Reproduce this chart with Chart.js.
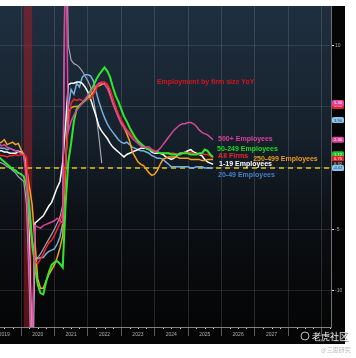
<!DOCTYPE html>
<html><head><meta charset="utf-8">
<script src="https://cdn.jsdelivr.net/npm/chart.js@4.4.1/dist/chart.umd.min.js"></script>
<style>html,body{margin:0;padding:0;background:#fff;}canvas{display:block;}</style>
</head><body>
<canvas id="c" width="356" height="358"></canvas>
<script>
// ---- data (monthly, starting May 2019) ----
const firstMonth = [2019, 5];
const allFirms = [1.1,1.0,1.0,0.9,1.0,1.0,1.1,1.0,1.1,1.1,
  0.9,-4.0,-6.5,-7.6,-7.8,-7.4,-7.0,-6.5,-6.1,-5.9,
  -5.5,-5.0,-4.5,-3.5,0.5,3.5,5.3,5.6,5.5,5.6,
  5.5,5.5,5.6,5.7,6.0,6.4,6.9,7.0,7.0,6.8,
  6.4,5.7,5.0,4.4,3.9,3.5,3.1,2.9,2.6,2.4,
  2.2,1.9,1.7,1.6,1.5,1.5,1.4,1.3,1.2,1.2,
  1.2,1.2,1.2,1.2,1.1,1.1,1.2,1.3,1.2,1.3,
  1.2,1.1,1.1,1.2,1.1,1.1,1.0,0.8];
const emp50to249 = [0.9,0.7,0.5,0.3,0.1,-0.1,-0.2,-0.4,-0.5,-0.7,
  -1.5,-3.5,-6.0,-8.0,-9.5,-10.2,-10.3,-9.3,-8.5,-7.9,
  -7.7,-7.6,-7.8,-8.1,-3.0,0.5,2.0,3.8,4.8,5.1,
  5.3,5.5,5.8,6.3,6.7,7.2,7.6,7.9,8.2,7.9,
  7.4,6.6,5.9,5.4,4.8,4.2,3.8,3.3,2.9,2.5,
  2.2,2.0,1.8,1.6,1.5,1.4,1.3,1.3,1.2,1.2,
  1.2,1.2,1.1,1.1,1.1,1.1,1.2,1.2,1.2,1.1,
  1.1,1.1,1.2,1.2,1.5,1.4,1.1,0.9];
const emp250to499 = [2.0,2.1,2.3,1.9,2.0,2.1,1.9,2.0,1.5,1.1,
  0.0,-1.5,-3.0,-6.0,-9.0,-9.8,-9.8,-9.2,-8.7,-8.3,
  -7.9,-7.3,-6.5,-5.5,0.0,4.5,4.9,5.0,5.0,5.1,
  5.3,5.5,5.7,5.9,6.2,6.6,6.7,6.8,6.9,6.8,
  6.0,5.3,4.7,4.2,3.8,3.3,2.8,2.2,1.3,0.9,
  0.5,0.3,0.2,-0.1,-0.4,-0.6,-0.5,-0.2,0.3,0.7,
  0.8,0.9,0.9,0.9,0.9,0.8,0.8,0.8,0.8,0.7,
  0.7,0.7,0.7,0.6,0.6,0.7,0.7,0.7];
const emp1to19 = [1.4,1.4,1.3,1.3,1.2,1.2,1.2,1.3,1.3,1.1,
  0.0,-6.0,-16,-4.5,-4.3,-4.1,-3.9,-3.5,-3.1,-2.8,
  -2.2,-1.6,-1.1,0.5,3.5,6.8,6.9,6.9,7.0,7.0,
  6.9,6.6,6.2,5.6,4.9,4.2,3.4,3.0,2.7,2.4,
  2.0,1.7,1.5,1.3,1.1,0.9,1.1,1.2,1.3,1.4,
  1.5,1.6,1.6,1.6,1.5,1.3,1.2,1.2,1.2,1.1,
  0.9,0.8,0.7,0.8,1.0,1.2,1.2,1.3,1.4,1.5,
  1.3,1.2,1.1,1.0,0.7,0.5,0.4,0.3];
const emp20to49 = [1.7,1.6,1.6,1.5,1.6,1.5,1.4,1.4,1.3,1.1,
  -0.5,-3.0,-6.0,-7.4,-7.4,-7.3,-7.3,-7.0,-6.8,-6.7,
  -6.6,-6.2,-5.6,-4.5,0.0,5.0,6.4,6.0,6.9,6.6,
  7.4,7.6,7.6,7.5,7.1,6.2,5.4,4.7,4.1,3.6,
  3.2,2.9,2.6,2.3,2.1,2.0,2.1,1.9,1.7,1.6,
  1.5,1.4,1.4,1.3,1.2,1.0,0.9,0.8,0.8,0.7,
  0.5,0.3,0.1,0.1,0.1,0.1,0.1,0.1,0.1,0.0,
  0.0,0.1,0.1,0.1,0.0,0.0,0.0,0.0];
const emp500plus = [2.0,1.8,1.9,1.7,1.6,1.5,1.4,1.3,1.2,1.0,
  -1.0,-8.0,-16,-4.7,-4.8,-4.9,-4.7,-4.6,-4.5,-4.4,
  -4.3,-4.1,-4.3,-4.5,20,3.0,3.8,4.3,4.7,5.0,
  5.3,5.6,5.9,6.2,6.5,6.7,6.9,6.9,6.8,6.5,
  5.9,5.3,4.7,4.1,3.6,3.3,3.0,2.7,2.4,2.2,
  2.0,1.8,1.7,1.7,1.7,1.5,1.3,1.4,1.6,1.9,
  2.2,2.5,2.8,3.1,3.3,3.5,3.6,3.6,3.7,3.7,
  3.6,3.4,3.1,2.9,2.8,2.7,2.5,2.3];
const otherSeries = [0.5,0.4,0.3,0.1,0.0,-0.2,-0.4,-0.7,-0.9,-1.1,
  -3.0,-10.0,-20,-7.5,-7.3,-7.0,-6.6,-6.2,-5.8,-5.4,
  -5.0,-4.5,-4.0,-3.0,22,10.0,8.8,8.5,8.4,8.2,
  7.9,7.5,7.1,6.6,5.6,4.3,2.5,0.4];

const seriesNames = ['500+ Employees','50-249 Employees','All Firms','250-499 Employees','1-19 Employees','20-49 Employees',''];
const seriesValues = [emp500plus, emp50to249, allFirms, emp250to499, emp1to19, emp20to49, otherSeries];
const seriesColors = ['#d8479b','#2ee82e','#f2222c','#f5a21a','#ffffff','#74aee2','#a6a2b8'];
const seriesWidths = [1.5,2,1.5,1.5,1.5,1.5,1.2];

const yearTicks = [2019,2020,2021,2022,2023,2024,2025,2026,2027,2028,2029];
const yTicks = [-10,-5,0,5,10];
const xRange = [2019.371, 2029.281];
const yRange = [-12.96, 13.2];
const zeroLine = 0;
const recession = [2020.083, 2020.333];

// line-end labels
const annoText = ['500+ Employees','50-249 Employees','All Firms','250-499 Employees','1-19 Employees','20-49 Employees'];
const annoX = [2025.90, 2025.87, 2025.90, 2026.95, 2025.93, 2025.90];
const annoY = [2.36, 1.55, 0.98, 0.73, 0.33, -0.57];
const annoColors = ['#de3f9c','#22d822','#f0242c','#e99a1e','#ffffff','#4a7fc4'];
const titleText = 'Employment by firm size YoY';
const titlePos = [2024.07, 7.0];

// right axis value badges
const badgeValues = [5.05, 5.30, 3.90, 2.30, 1.12, 0.75, 0.32, 0.00];
const badgeTexts = ['5.06','5.30','3.90','2.30','1.12','0.75','0.32','-0.02'];
const badgeColors = ['#e3212b','#e0439b','#8cc4ec','#e0439b','#21c521','#e3212b','#222222','#8cc4ec'];
const badgeTextColors = ['#fff','#fff','#1a3a5a','#fff','#fff','#fff','#ddd','#1a3a5a'];

function monthTime(i){ const m = firstMonth[1]-1+i; return firstMonth[0] + m/12; }

const datasets = seriesValues.map((arr,k)=>({
  label: seriesNames[k],
  data: arr.map((v,i)=>({x: monthTime(i), y: v})),
  borderColor: seriesColors[k],
  borderWidth: seriesWidths[k],
  pointRadius: 0,
  tension: 0,
  fill: false
}));
datasets.push({
  label: 'zero',
  data: [{x: xRange[0], y: zeroLine}, {x: xRange[1], y: zeroLine}],
  borderColor: '#e2c21a', borderWidth: 1.5, borderDash: [5,4], pointRadius: 0
});

const bgPlugin = {
  id: 'bg',
  beforeDraw(chart){
    const c = chart.ctx, a = chart.chartArea;
    c.save();
    c.fillStyle = '#fff'; c.fillRect(0,0,chart.width,chart.height);
    c.fillStyle = '#050505'; c.fillRect(0, a.top, a.right+14, a.bottom+17-a.top);
    const g = c.createLinearGradient(0, a.top, 0, a.bottom);
    g.addColorStop(0, '#1f2f3f'); g.addColorStop(0.4, '#16212c');
    g.addColorStop(0.7, '#0b0e12'); g.addColorStop(1, '#050505');
    c.fillStyle = g; c.fillRect(a.left, a.top, a.right-a.left, a.bottom-a.top);
    c.restore();
  },
  beforeDatasetsDraw(chart){
    const c = chart.ctx, a = chart.chartArea, xs = chart.scales.x;
    const x0 = xs.getPixelForValue(recession[0]), x1 = xs.getPixelForValue(recession[1]);
    c.save();
    c.fillStyle = 'rgba(160,30,40,0.55)';
    c.fillRect(x0, a.top, x1-x0, a.bottom-a.top);
    c.restore();
  },
  afterDatasetsDraw(chart){
    const c = chart.ctx, a = chart.chartArea, xs = chart.scales.x, ys = chart.scales.y;
    c.save();
    c.fillStyle = '#cfcfcf';
    for (let y = 2019; y <= 2029; y++) for (let q = 1; q < 4; q++) {
      const px = xs.getPixelForValue(y + q/4);
      if (px > a.left && px < a.right) c.fillRect(Math.round(px), a.bottom+1, 1, 1);
    }
    c.textBaseline = 'middle'; c.textAlign = 'left';
    c.font = 'bold 7px "Liberation Sans", Arial, sans-serif';
    c.fillStyle = '#d4161e';
    c.fillText(titleText, xs.getPixelForValue(titlePos[0]), ys.getPixelForValue(titlePos[1]));
    annoText.forEach((t,i)=>{
      c.fillStyle = annoColors[i];
      c.fillText(t, xs.getPixelForValue(annoX[i]), ys.getPixelForValue(annoY[i]));
    });
    c.restore();
  },
  afterDraw(chart){
    const c = chart.ctx, a = chart.chartArea, ys = chart.scales.y;
    c.save();
    c.textBaseline = 'middle'; c.textAlign = 'center';
    c.font = '4px "Liberation Sans", Arial, sans-serif';
    badgeValues.forEach((v,i)=>{
      const y = ys.getPixelForValue(v);
      c.fillStyle = badgeColors[i];
      c.beginPath(); c.roundRect(a.right+1, y-3, 12, 6, 1.5); c.fill();
      c.fillStyle = badgeTextColors[i];
      c.fillText(badgeTexts[i], a.right+7, y+0.3);
    });
    c.textAlign = 'left';
    c.strokeStyle = '#e8e8e8'; c.lineWidth = 0.8;
    c.beginPath(); c.arc(305, 336, 4, 0, Math.PI*2); c.stroke();
    c.font = '9px "Noto Sans CJK SC", sans-serif';
    c.fillStyle = 'rgba(60,60,60,0.7)'; c.fillText('老虎社区', 313, 338);
    c.fillStyle = '#ececec'; c.fillText('老虎社区', 312, 337);
    c.font = '6px "Noto Sans CJK SC", sans-serif';
    c.fillStyle = '#b8b8b8'; c.fillText('@三思研究', 321, 350);
    c.restore();
  }
};

new Chart(document.getElementById('c'), {
  type: 'line',
  data: { datasets },
  options: {
    responsive: false, animation: false, devicePixelRatio: 1,
    layout: { padding: { top: 6, right: 11, bottom: 14, left: 0 } },
    plugins: { legend: { display: false }, tooltip: { enabled: false } },
    scales: {
      x: {
        type: 'linear', position: 'bottom', min: xRange[0], max: xRange[1],
        afterBuildTicks(s){ s.ticks = yearTicks.map(v=>({value:v})); },
        afterFit(s){ s.height = 17; s.paddingLeft = 0; s.paddingRight = 0; },
        grid: { color: 'rgba(190,200,210,0.17)', tickLength: 9, tickColor: 'rgba(150,150,150,0.6)' },
        border: { color: '#808080' },
        ticks: { autoSkip: false, maxRotation: 0, labelOffset: 16.7, padding: -4, color: '#b0b0b0',
          font: { size: 5, family: '"Liberation Sans", Arial' },
          callback: v => (v <= 2027 ? String(v) : '') }
      },
      y: {
        type: 'linear', position: 'right', min: yRange[0], max: yRange[1],
        afterBuildTicks(s){ s.ticks = yTicks.map(v=>({value:v})); },
        afterFit(s){ s.width = 14; s.paddingTop = 0; s.paddingBottom = 0; },
        grid: { color: 'rgba(190,200,210,0.15)', tickLength: 3, tickColor: '#e0e0e0' },
        border: { color: '#707070' },
        ticks: { color: '#aaaaaa', padding: 1, font: { size: 5, family: '"Liberation Sans", Arial' } }
      }
    }
  },
  plugins: [bgPlugin]
});
</script>
</body></html>
